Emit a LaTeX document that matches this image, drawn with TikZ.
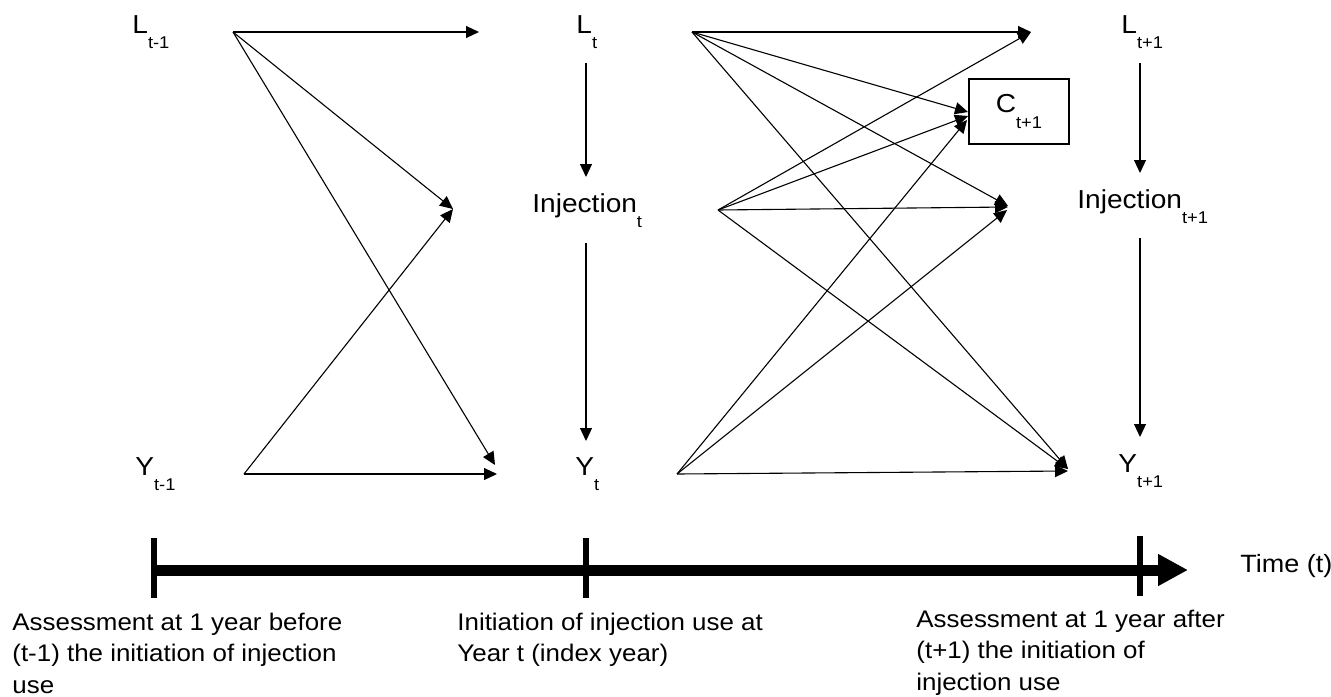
\documentclass[tikz,border=0pt]{standalone}
\usepackage{fontspec}
\setmainfont{Liberation Sans}[FakeStretch=1.08]
\usetikzlibrary{arrows.meta}
\newcommand{\sbs}[1]{\raisebox{-7.75pt}{\fontsize{8.5}{9}\selectfont #1}}
\begin{document}
\begin{tikzpicture}[x=0.5pt,y=-0.5pt,
  lbl/.style={anchor=base west,inner sep=0pt,font=\fontsize{13}{15}\selectfont},
  note/.style={anchor=base west,inner sep=0pt,font=\fontsize{12}{15.75}\selectfont},
  arr/.style={-{Triangle[length=6.5pt,width=6pt]},line width=0.55pt},
  axis/.style={line width=5.5pt,-{Triangle[length=15pt,width=15pt]}},
  tick/.style={line width=3.2pt},
  cbox/.style={draw,line width=0.6pt,minimum width=50pt,minimum height=32.5pt,inner sep=0pt,font=\fontsize{13}{15}\selectfont}]
\useasboundingbox (0,0) rectangle (1331,696);

% labels
\node[lbl] (Ltm1) at (132,33) {L\sbs{t-1}};
\node[lbl] (Ytm1) at (135,475) {Y\sbs{t-1}};
\node[lbl] (Lt) at (576,33) {L\sbs{t}};
\node[lbl] (Injt) at (532,212) {Injection\sbs{t}};
\node[lbl] (Yt) at (575,475) {Y\sbs{t}};
\node[lbl] (Ltp1) at (1121,33) {L\sbs{t+1}};
\node[lbl] (Injtp1) at (1077,208) {Injection\sbs{t+1}};
\node[lbl] (Ytp1) at (1118,472) {Y\sbs{t+1}};
\node[cbox] (Ctp1) at (1019,111.5) {C\sbs{t+1}};

% vertical arrows
\coordinate (vLt) at (586,63);   \coordinate (vInjtin) at (586,177);
\coordinate (vInjt) at (586,243); \coordinate (vYtin) at (586,441);
\coordinate (vLtp1) at (1140,63); \coordinate (vInjtp1in) at (1140,173);
\coordinate (vInjtp1) at (1140,238); \coordinate (vYtp1in) at (1140,437);
\draw[arr] (vLt) -- (vInjtin);
\draw[arr] (vInjt) -- (vYtin);
\draw[arr] (vLtp1) -- (vInjtp1in);
\draw[arr] (vInjtp1) -- (vYtp1in);

% left group
\coordinate (s1) at (233,32);
\coordinate (s2) at (244,474);
\coordinate (p1) at (479,32);
\coordinate (p2) at (453,209);
\coordinate (p3) at (495,465);
\coordinate (p4) at (497,474);
\draw[arr] (s1) -- (p1);
\draw[arr] (s1) -- (p2);
\draw[arr] (s1) -- (p3);
\draw[arr] (s2) -- (p2);
\draw[arr] (s2) -- (p4);

% right group
\coordinate (a) at (692,32);
\coordinate (b) at (718,210);
\coordinate (c) at (677,474);
\coordinate (tL) at (1031,32);
\coordinate (tCa) at (968,112);
\coordinate (tCb) at (968,116);
\coordinate (tCc) at (967,120);
\coordinate (tIa) at (1008,206);
\coordinate (tIb) at (1008,207);
\coordinate (tIc) at (1007,210);
\coordinate (tYa) at (1068,469);
\coordinate (tYc) at (1068,471);
\draw[arr] (a) -- (tL);
\draw[arr] (a) -- (tCa);
\draw[arr] (a) -- (tIa);
\draw[arr] (a) -- (tYa);
\draw[arr] (b) -- (tL);
\draw[arr] (b) -- (tCb);
\draw[arr] (b) -- (tIb);
\draw[arr] (b) -- (tYa);
\draw[arr] (c) -- (tCc);
\draw[arr] (c) -- (tIc);
\draw[arr] (c) -- (tYc);

% timeline
\coordinate (T0) at (154,570);
\coordinate (T1) at (1188,570);
\draw[axis] (T0) -- (T1);
\coordinate (k1a) at (154,538); \coordinate (k1b) at (154,598);
\coordinate (k2a) at (586,538); \coordinate (k2b) at (586,598);
\coordinate (k3a) at (1140,536); \coordinate (k3b) at (1140,596);
\draw[tick] (k1a) -- (k1b);
\draw[tick] (k2a) -- (k2b);
\draw[tick] (k3a) -- (k3b);
\node[lbl,font=\fontsize{12.5}{15}\selectfont] (time) at (1240,572) {Time (t)};

% notes
\node[note] (n1) at (12,630) {\begin{tabular}[t]{@{}l@{}}Assessment at 1 year before\\(t-1) the initiation of injection\\use\end{tabular}};
\node[note] (n2) at (457,630) {\begin{tabular}[t]{@{}l@{}}Initiation of injection use at\\Year t (index year)\end{tabular}};
\node[note] (n3) at (916,627) {\begin{tabular}[t]{@{}l@{}}Assessment at 1 year after\\(t+1) the initiation of\\injection use\end{tabular}};
\end{tikzpicture}
\end{document}
